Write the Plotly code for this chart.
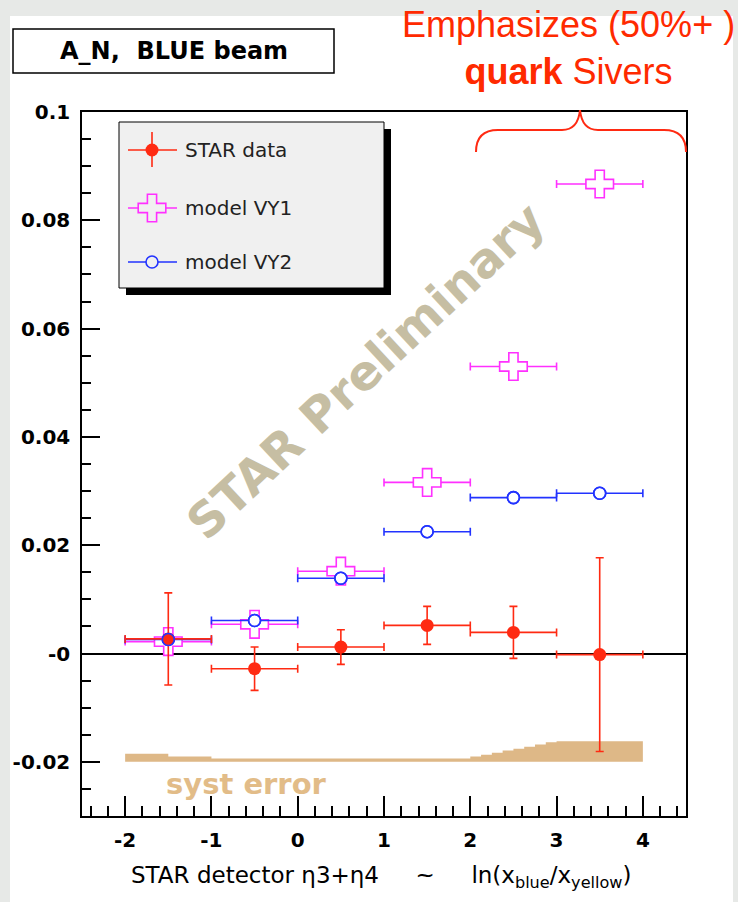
import plotly.graph_objects as go

# ---------------- data ----------------
bin_centers = [-1.5, -0.5, 0.5, 1.5, 2.5, 3.5]
bin_half = [0.5, 0.5, 0.5, 0.5, 0.5, 0.5]
star_an = [0.0027, -0.0028, 0.0012, 0.0052, 0.0039, -0.0002]
star_err = [0.0085, 0.0040, 0.0032, 0.0035, 0.0048, 0.0179]
vy1_an = [0.0022, 0.0054, 0.0152, 0.0316, 0.0530, 0.0867]
vy2_an = [0.0026, 0.0061, 0.0139, 0.0225, 0.0288, 0.0296]

syst_edges = [-2.0, -1.5, -1.0, 2.0, 2.125, 2.25, 2.375, 2.5, 2.625, 2.75, 2.875, 3.0, 4.0]
syst_top = [-0.0185, -0.0190, -0.0194, -0.0190, -0.0187, -0.0183, -0.0179,
            -0.0176, -0.0172, -0.0168, -0.0164, -0.0162]
syst_bottom = -0.0200

x_tick_vals = [-2, -1, 0, 1, 2, 3, 4]
x_tick_text = ["-2", "-1", "0", "1", "2", "3", "4"]
y_tick_vals = [-0.02, 0.0, 0.02, 0.04, 0.06, 0.08, 0.1]
y_tick_text = ["-0.02", "-0", "0.02", "0.04", "0.06", "0.08", "0.1"]

legend_labels = ["STAR data", "model VY1", "model VY2"]

# ---------------- styles ----------------
RED = "#ff2a12"
MAG = "#ff30ff"
BLUE = "#2233ff"
SYST = "#deb887"
W, H = 738, 902
L, R, T, B = 82, 686, 112, 816


def pxx(p):
    return (p - L) / (R - L)


def pyy(p):
    return (B - p) / (B - T)


def P(x, y):
    return f"{pxx(x):.5f},{pyy(y):.5f}"


fig = go.Figure()

# systematic error band (stepped histogram)
sx, sy = [], []
for i, top in enumerate(syst_top):
    sx += [syst_edges[i], syst_edges[i + 1]]
    sy += [top, top]
sx += [syst_edges[-1], syst_edges[0]]
sy += [syst_bottom, syst_bottom]
fig.add_trace(go.Scatter(x=sx, y=sy, mode="lines", fill="toself", fillcolor=SYST,
                         line=dict(width=0, color=SYST), hoverinfo="skip"))

# model VY1
fig.add_trace(go.Scatter(
    x=bin_centers, y=vy1_an, mode="markers",
    marker=dict(symbol="cross", size=23, color="white", line=dict(color=MAG, width=1.6)),
    error_x=dict(type="data", array=bin_half, color=MAG, thickness=1.6, width=4),
))
# model VY2 (white-filled, below data)
fig.add_trace(go.Scatter(
    x=bin_centers, y=vy2_an, mode="markers",
    marker=dict(symbol="circle", size=12, color="white", line=dict(color=BLUE, width=1.6)),
    error_x=dict(type="data", array=bin_half, color=BLUE, thickness=1.6, width=4),
))
# STAR data
fig.add_trace(go.Scatter(
    x=bin_centers, y=star_an, mode="markers",
    marker=dict(symbol="circle", size=13, color=RED),
    error_x=dict(type="data", array=bin_half, color=RED, thickness=1.6, width=4),
    error_y=dict(type="data", array=star_err, color=RED, thickness=1.6, width=4),
))
# VY2 rings on top
fig.add_trace(go.Scatter(
    x=bin_centers, y=vy2_an, mode="markers",
    marker=dict(symbol="circle-open", size=12, color=BLUE, line=dict(width=1.6)),
))

# ---------------- legend samples (pixel overlay axes) ----------------
lx0, lx1, lxm = 128, 177, 152
ly = [150, 208, 262]
fig.add_trace(go.Scatter(x=[lx0, lx1, None, lxm, lxm], y=[ly[0], ly[0], None, 132, 167],
                         mode="lines", line=dict(color=RED, width=1.6),
                         xaxis="x2", yaxis="y2"))
fig.add_trace(go.Scatter(x=[lxm], y=[ly[0]], mode="markers",
                         marker=dict(symbol="circle", size=13, color=RED),
                         xaxis="x2", yaxis="y2"))
fig.add_trace(go.Scatter(x=[lx0, lx1], y=[ly[1], ly[1]], mode="lines",
                         line=dict(color=MAG, width=1.6), xaxis="x2", yaxis="y2"))
fig.add_trace(go.Scatter(x=[lxm], y=[ly[1]], mode="markers",
                         marker=dict(symbol="cross", size=23, color="#f0f0f0",
                                     line=dict(color=MAG, width=1.6)),
                         xaxis="x2", yaxis="y2"))
fig.add_trace(go.Scatter(x=[lx0, lx1], y=[ly[2], ly[2]], mode="lines",
                         line=dict(color=BLUE, width=1.6), xaxis="x2", yaxis="y2"))
fig.add_trace(go.Scatter(x=[lxm], y=[ly[2]], mode="markers",
                         marker=dict(symbol="circle", size=12, color="#f0f0f0",
                                     line=dict(color=BLUE, width=1.6)),
                         xaxis="x2", yaxis="y2"))

# ---------------- shapes ----------------
shapes = [
    # white canvas
    dict(type="rect", xref="paper", yref="paper", x0=pxx(10), x1=pxx(733), y0=pyy(16), y1=pyy(902),
         fillcolor="white", line=dict(width=0), layer="below"),
    # title box
    dict(type="rect", xref="paper", yref="paper", x0=pxx(13), x1=pxx(334), y0=pyy(29), y1=pyy(73),
         fillcolor="white", line=dict(color="black", width=1.5), layer="below"),
    # legend shadow & box
    dict(type="rect", xref="paper", yref="paper", x0=pxx(126), x1=pxx(391), y0=pyy(129), y1=pyy(295),
         fillcolor="black", line=dict(width=0), layer="below"),
    dict(type="rect", xref="paper", yref="paper", x0=pxx(119), x1=pxx(384), y0=pyy(122), y1=pyy(288),
         fillcolor="#f0f0f0", line=dict(color="black", width=1), layer="below"),
    # curly brace
    dict(type="path", xref="paper", yref="paper",
         path=(f"M{P(476,152)} Q{P(476,130)} {P(498,130)} L{P(562,130)} "
               f"Q{P(578,130)} {P(580,110)} Q{P(582,130)} {P(598,130)} "
               f"L{P(664,130)} Q{P(686,130)} {P(686,152)}"),
         line=dict(color=RED, width=2)),
]

# ---------------- annotations ----------------
NB = "\u00a0"


def ann(text, x, y, font, xanchor="center", yanchor="middle", **kw):
    return dict(text=text, x=pxx(x), y=pyy(y), xref="paper", yref="paper",
                xanchor=xanchor, yanchor=yanchor, showarrow=False, font=font, **kw)


annotations = [
    ann(f"A_N,{NB}{NB}BLUE beam", 173.5, 51,
        dict(family="DejaVu Sans", size=24, color="black", weight="bold")),
    ann("Emphasizes (50%+ )<br><b>quark</b> Sivers", 568, 47.5,
        dict(family="Liberation Sans", size=36, color="#ff2a00"), align="center"),
    ann("STAR Preliminary", 365, 371,
        dict(family="DejaVu Sans", size=48, color="#c6bea3", weight="bold"), textangle=-43),
    ann("syst error", 246, 784,
        dict(family="DejaVu Sans", size=29, color="#e2bc88", weight="bold")),
    ann(f"STAR detector \u03b73+\u03b74{NB*5}~{NB*5}ln(x<sub>blue</sub>/x<sub>yellow</sub>)", 381, 877,
        dict(family="DejaVu Sans", size=23, color="black")),
]
for lab, yy in zip(legend_labels, ly):
    annotations.append(ann(lab, 183, yy, dict(family="DejaVu Sans", size=20, color="#222222"),
                           xanchor="left"))

tickfont = dict(family="DejaVu Sans", size=20, color="black", weight="bold")

fig.update_layout(
    width=W, height=H, autosize=False,
    margin=dict(l=L, r=W - R, t=T, b=H - B, pad=0),
    paper_bgcolor="#e7e9e7", plot_bgcolor="white",
    showlegend=False,
    xaxis=dict(range=[-2.5, 4.5], tickmode="array", tickvals=x_tick_vals, ticktext=x_tick_text,
               ticks="inside", ticklen=20, tickwidth=1.5, tickcolor="black",
               showline=True, linecolor="black", linewidth=1.5, mirror=True,
               showgrid=False, zeroline=False, tickfont=tickfont, ticklabelstandoff=5,
               minor=dict(dtick=0.2, tick0=0, ticks="inside", ticklen=10, tickwidth=1.5,
                          tickcolor="black", showgrid=False)),
    yaxis=dict(range=[-0.03, 0.1], tickmode="array", tickvals=y_tick_vals, ticktext=y_tick_text,
               ticks="inside", ticklen=18, tickwidth=1.5, tickcolor="black",
               showline=True, linecolor="black", linewidth=1.5, mirror=True,
               showgrid=False, zeroline=True, zerolinecolor="black", zerolinewidth=1.5,
               tickfont=tickfont, ticklabelstandoff=6,
               minor=dict(dtick=0.005, tick0=0, ticks="inside", ticklen=9, tickwidth=1.5,
                          tickcolor="black", showgrid=False)),
    xaxis2=dict(overlaying="x", anchor="y2", range=[L, R], visible=False),
    yaxis2=dict(overlaying="y", anchor="x2", range=[B, T], visible=False),
    shapes=shapes,
    annotations=annotations,
)

fig.write_html("out.html")
